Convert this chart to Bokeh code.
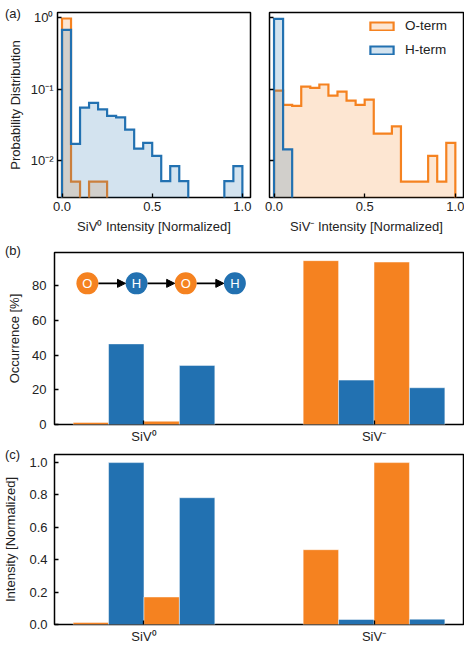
import numpy as np
from bokeh.plotting import figure
from bokeh.layouts import column, row
from bokeh.models import (Range1d, FixedTicker, PrintfTickFormatter, CustomJSTickFormatter,
                          Legend, LegendItem, Div, Arrow, NormalHead, ColumnDataSource)
from bokeh.core.properties import value
from bokeh.embed import file_html
from bokeh.resources import INLINE

# ---------------- data ----------------
bin_edges = [0.00, 0.05, 0.10, 0.15, 0.20, 0.25, 0.30, 0.35, 0.40, 0.45, 0.50,
             0.55, 0.60, 0.65, 0.70, 0.75, 0.80, 0.85, 0.90, 0.95, 1.00]
siv0_oterm = [0.98, 0.005, 0, 0.005, 0.005, 0, 0, 0, 0, 0,
              0, 0, 0, 0, 0, 0, 0, 0, 0, 0]
siv0_hterm = [0.68, 0.017, 0.055, 0.064, 0.052, 0.042, 0.040, 0.027, 0.0146, 0.0175,
              0.0115, 0.0051, 0.0083, 0.0051, 0, 0, 0, 0, 0.0051, 0.0083]
sivm_oterm = [0.095, 0.060, 0.058, 0.108, 0.104, 0.116, 0.081, 0.092, 0.069, 0.060,
              0.071, 0.0236, 0.0236, 0.030, 0.005, 0.005, 0.005, 0.0115, 0.005, 0.0175]
sivm_hterm = [0.97, 0.0142, 0, 0, 0, 0, 0, 0, 0, 0,
              0, 0, 0, 0, 0, 0, 0, 0, 0, 0]
series_labels = ["O-term", "H-term"]
hist_xlabels = ["SiV\u2070 Intensity [Normalized]", "SiV\u207b Intensity [Normalized]"]

categories = ["SiV\u2070", "SiV\u207b"]
sequence = ["O", "H", "O", "H"]
occurrence_siv0 = [1.2, 46.5, 1.9, 34.1]
occurrence_sivm = [94.5, 25.6, 93.7, 21.2]
intensity_siv0 = [0.012, 1.0, 0.170, 0.783]
intensity_sivm = [0.462, 0.031, 1.0, 0.033]

panel_tags = ["(a)", "(b)", "(c)"]
hist_xticks = [0.0, 0.5, 1.0]
hist_yticks = [0.01, 0.1, 1.0]
occ_yticks = [0, 20, 40, 60, 80]
int_yticks = [0.0, 0.2, 0.4, 0.6, 0.8, 1.0]

# ---------------- style ----------------
FONT = "Liberation Sans"
ORANGE = "#f58220"
BLUE = "#2271b1"
BAR_W = 0.154
LOG_FLOOR = 1e-6


def style(p, label_standoff=4, tick_standoff=4):
    p.outline_line_color = "black"
    p.outline_line_width = 1.5
    p.grid.visible = False
    p.background_fill_color = "white"
    p.border_fill_color = "white"
    for ax in p.axis:
        ax.axis_line_color = None
        ax.major_tick_in = 4
        ax.major_tick_out = 0
        ax.minor_tick_in = 0
        ax.minor_tick_out = 0
        ax.major_tick_line_width = 1.3
        ax.major_tick_line_color = "black"
        ax.major_label_text_font = FONT
        ax.major_label_text_font_size = "13px"
        ax.major_label_text_color = "#222222"
        ax.major_label_standoff = tick_standoff
        ax.axis_label_text_font = FONT
        ax.axis_label_text_font_size = "13px"
        ax.axis_label_text_font_style = "normal"
        ax.axis_label_text_color = "#222222"
        ax.axis_label_standoff = label_standoff


def step_poly(edges, vals):
    xs = [edges[0]]
    ys = [LOG_FLOOR]
    for i, v in enumerate(vals):
        v = max(v, LOG_FLOOR)
        xs += [edges[i], edges[i + 1]]
        ys += [v, v]
    xs.append(edges[-1])
    ys.append(LOG_FLOOR)
    return xs, ys


log_fmt = CustomJSTickFormatter(code="""
const sup = {'-':'\u207b','0':'\u2070','1':'\u00b9','2':'\u00b2','3':'\u00b3'};
const e = Math.round(Math.log10(tick)).toString();
let s = '';
for (const c of e) { s += sup[c]; }
return '10' + s;
""")
blank_fmt = CustomJSTickFormatter(code="return '';")


def tag_div(text, left, top):
    return Div(text=text, width=20, height=14,
               styles={"position": "absolute", "left": f"{left}px", "top": f"{top}px",
                       "font-family": FONT, "font-size": "13px", "color": "#222222",
                       "line-height": "14px", "z-index": "10"})


def hist_fig(o_vals, h_vals, xlabel, left, fw, right, show_ylabels):
    fh = 185
    top, bottom = 12, 39
    p = figure(width=left + fw + right, height=top + fh + bottom, title=None,
               x_range=Range1d(-0.025, 1.045), y_range=Range1d(0.003, 1.19),
               y_axis_type="log", output_backend="svg", toolbar_location=None,
               min_border_left=left, min_border_right=right,
               min_border_top=top, min_border_bottom=bottom)
    rs = []
    for vals, col in ((o_vals, ORANGE), (h_vals, BLUE)):
        xs, ys = step_poly(bin_edges, vals)
        r = p.patch(xs, ys, fill_color=col, fill_alpha=0.2,
                    line_color=col, line_width=2.2, line_join="miter")
        rs.append(r)
    p.xaxis.ticker = FixedTicker(ticks=hist_xticks)
    p.xaxis.formatter = PrintfTickFormatter(format="%.1f")
    p.yaxis.ticker = FixedTicker(ticks=hist_yticks, minor_ticks=[])
    p.yaxis.formatter = log_fmt if show_ylabels else blank_fmt
    p.xaxis.axis_label = xlabel
    if show_ylabels:
        p.yaxis.axis_label = "Probability Distribution"
    style(p, label_standoff=5, tick_standoff=4)
    return p, rs


p1, _ = hist_fig(siv0_oterm, siv0_hterm, hist_xlabels[0], 57, 193, 10, True)
p2, rs2 = hist_fig(sivm_oterm, sivm_hterm, hist_xlabels[1], 9, 194, 1, False)

legend = Legend(items=[LegendItem(label=series_labels[0], renderers=[rs2[0]]),
                       LegendItem(label=series_labels[1], renderers=[rs2[1]])],
                location="top_right", glyph_width=29, glyph_height=10,
                label_height=10, label_width=52, label_standoff=9, spacing=9,
                padding=6, margin=0,
                label_text_font=FONT, label_text_font_size="13.5px",
                label_text_color="#222222",
                border_line_alpha=0, background_fill_alpha=0)
p2.add_layout(legend)


def bar_fig(vals0, valsm, ylim, yticks, yfmt, ylabel, top, fh, bottom, tick_standoff, label_standoff):
    left, right = 53, 1
    p = figure(width=left + 410 + right, height=top + fh + bottom, title=None,
               x_range=Range1d(-0.389, 1.389), y_range=Range1d(0, ylim),
               output_backend="svg", toolbar_location=None,
               min_border_left=left, min_border_right=right,
               min_border_top=top, min_border_bottom=bottom)
    offsets = [(i - 1.5) * BAR_W for i in range(len(sequence))]
    colors = [ORANGE if s == "O" else BLUE for s in sequence]
    xs, tops, cols = [], [], []
    for ci, vals in enumerate((vals0, valsm)):
        for j, v in enumerate(vals):
            xs.append(ci + offsets[j])
            tops.append(v)
            cols.append(colors[j])
    src = ColumnDataSource(dict(x=xs, top=tops, color=cols))
    p.vbar(x="x", top="top", width=BAR_W, bottom=0, fill_color="color",
           line_color="white", line_width=0.6, line_alpha=0.8, source=src)
    p.xaxis.ticker = FixedTicker(ticks=[0, 1])
    p.xaxis.major_label_overrides = {0: categories[0], 1: categories[1]}
    p.yaxis.ticker = FixedTicker(ticks=yticks)
    p.yaxis.formatter = yfmt
    p.yaxis.axis_label = ylabel
    style(p, label_standoff=label_standoff, tick_standoff=tick_standoff)
    p.xaxis.major_label_standoff = 4
    return p


p3 = bar_fig(occurrence_siv0, occurrence_sivm, 99.2, occ_yticks,
             PrintfTickFormatter(format="%d"), "Occurrence [%]", 16, 172, 22, 8, 7)
p4 = bar_fig(intensity_siv0, intensity_sivm, 1.05, int_yticks,
             PrintfTickFormatter(format="%.1f"), "Intensity [Normalized]", 8, 172, 20, 7, 8)

# ---- inset sequence diagram in (b) ----
diag_x0, diag_dx, diag_y = -0.246, 0.2137, 81.4
diag_r = 0.048
dxs = [diag_x0 + i * diag_dx for i in range(len(sequence))]
dcols = [ORANGE if s == "O" else BLUE for s in sequence]
arr_src = ColumnDataSource(dict(
    xs=[dxs[i] + diag_r for i in range(len(sequence) - 1)],
    xe=[dxs[i + 1] - diag_r for i in range(len(sequence) - 1)],
    y=[diag_y] * (len(sequence) - 1)))
p3.add_layout(Arrow(x_start="xs", y_start="y", x_end="xe", y_end="y", source=arr_src,
                    line_color="black", line_width=1.6,
                    end=NormalHead(size=8, fill_color="black", line_color="black", line_width=1)))
p3.scatter(dxs, [diag_y] * len(sequence), size=22, fill_color=dcols, line_color=None)
p3.text(dxs, [diag_y] * len(sequence), text=sequence, text_color="white",
        text_align="center", text_baseline="middle",
        text_font=value(FONT), text_font_size="13px")

tags = [tag_div(panel_tags[0], 0, 2), tag_div(panel_tags[1], 0, 239), tag_div(panel_tags[2], 0, 443)]
layout = column(row(p1, p2), p3, p4, *tags)
open("out.html", "w").write(file_html(layout, INLINE))
